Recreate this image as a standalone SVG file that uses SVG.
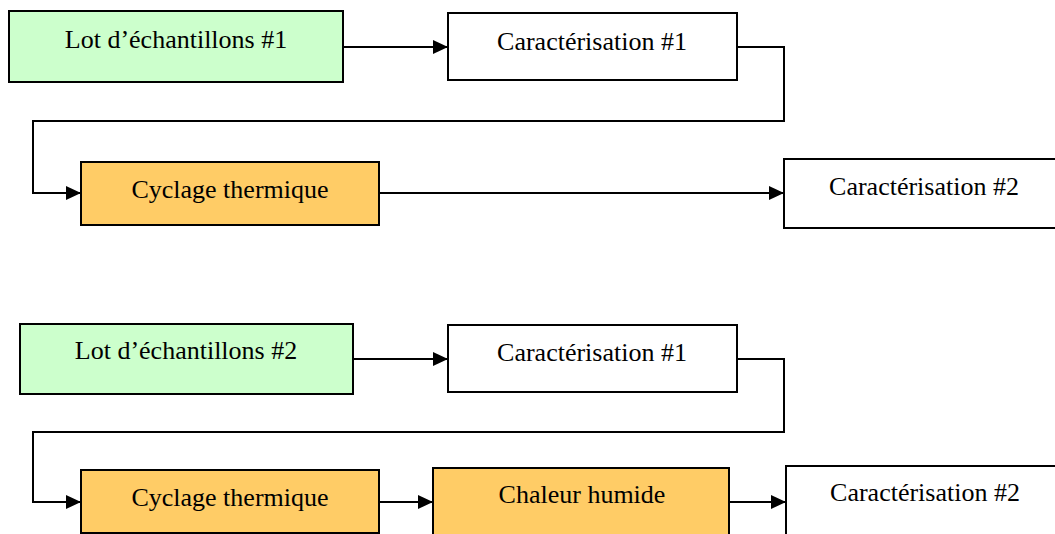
<svg xmlns="http://www.w3.org/2000/svg" width="1055" height="534" viewBox="0 0 1055 534">
<style>
.box{stroke:#000;stroke-width:2}
.green{fill:#CCFFCC}
.orange{fill:#FFCC66}
.white{fill:#FFFFFF}
.lbl{font-family:"Liberation Serif","Times New Roman",serif;font-size:26px;fill:#000;text-anchor:middle}
.conn{fill:none;stroke:#000;stroke-width:2}
</style>
<defs>
<marker id="arr" markerUnits="userSpaceOnUse" markerWidth="16" markerHeight="14" refX="15" refY="7" orient="auto">
<path d="M0,0 L15,7 L0,14 Z" fill="#000"/>
</marker>
</defs>
<rect width="1055" height="534" fill="#fff"/>
<g id="connectors">
<path class="conn" d="M343,47 H448" marker-end="url(#arr)"/>
<path class="conn" d="M737,47 H784 V121 H33 V193 H81" marker-end="url(#arr)"/>
<path class="conn" d="M379,193 H784" marker-end="url(#arr)"/>
<path class="conn" d="M353,359 H448" marker-end="url(#arr)"/>
<path class="conn" d="M737,359 H784 V432 H33 V502 H81" marker-end="url(#arr)"/>
<path class="conn" d="M379,502 H433" marker-end="url(#arr)"/>
<path class="conn" d="M729,502 H786" marker-end="url(#arr)"/>
</g>
<g id="lot1">
<rect class="box green" x="9" y="11" width="334" height="71"/>
<text class="lbl" x="176" y="48">Lot d’échantillons #1</text>
</g>
<g id="carac1a">
<rect class="box white" x="448" y="13" width="289" height="67"/>
<text class="lbl" x="592" y="50">Caractérisation #1</text>
</g>
<g id="cyclage1">
<rect class="box orange" x="81" y="162" width="298" height="63"/>
<text class="lbl" x="230" y="198">Cyclage thermique</text>
</g>
<g id="carac2a">
<rect class="box white" x="784" y="159" width="280" height="69"/>
<text class="lbl" x="924" y="195">Caractérisation #2</text>
</g>
<g id="lot2">
<rect class="box green" x="20" y="324" width="333" height="70"/>
<text class="lbl" x="186" y="359">Lot d’échantillons #2</text>
</g>
<g id="carac1b">
<rect class="box white" x="448" y="325" width="289" height="67"/>
<text class="lbl" x="592" y="361">Caractérisation #1</text>
</g>
<g id="cyclage2">
<rect class="box orange" x="81" y="470" width="298" height="63"/>
<text class="lbl" x="230" y="506">Cyclage thermique</text>
</g>
<g id="chaleur">
<rect class="box orange" x="433" y="468" width="296" height="80"/>
<text class="lbl" x="582" y="503">Chaleur humide</text>
</g>
<g id="carac2b">
<rect class="box white" x="786" y="466" width="280" height="80"/>
<text class="lbl" x="925" y="501">Caractérisation #2</text>
</g>
</svg>
